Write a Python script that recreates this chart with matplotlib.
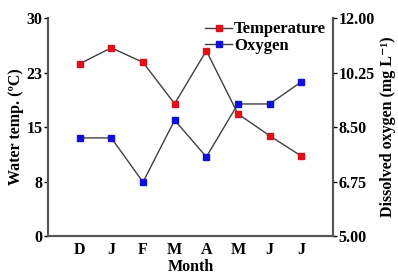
import matplotlib.pyplot as plt

months = ["D", "J", "F", "M", "A", "M", "J", "J"]
temperature = [23.7, 25.9, 23.9, 18.2, 25.5, 16.8, 13.8, 11.0]
oxygen = [8.15, 8.15, 6.73, 8.72, 7.54, 9.24, 9.24, 9.95]

left_ticks = [0, 7.5, 15, 22.5, 30]
left_labels = ["0", "8", "15", "23", "30"]
right_ticks = [5.0, 6.75, 8.5, 10.25, 12.0]

plt.rcParams['font.family'] = ['Liberation Serif', 'DejaVu Serif']
plt.rcParams['font.weight'] = 'bold'

fig = plt.figure(figsize=(3.98, 2.77), dpi=100)
ax = fig.add_axes([0.1206, 0.148, 0.716, 0.787])
ax2 = ax.twinx()

x = list(range(1, len(months) + 1))
line_col = "#404040"
ax.plot(x, temperature, color=line_col, lw=1, marker="s", ms=5,
        mfc="#e0101a", mec="#e0101a", label="Temperature")
ax2.plot(x, oxygen, color=line_col, lw=1, marker="s", ms=5,
         mfc="#1010d8", mec="#1010d8", label="Oxygen")

ax.set_xlim(0, 9)
ax.set_ylim(0, 30)
ax2.set_ylim(5, 12)
ax.set_xticks(x)
ax.set_xticklabels(months)
ax.set_yticks(left_ticks)
ax.set_yticklabels(left_labels)
ax2.set_yticks(right_ticks)
ax2.set_yticklabels([f"{v:.2f}" for v in right_ticks])

for a in (ax, ax2):
    a.spines['top'].set_visible(False)
    for s in ('left', 'right', 'bottom'):
        a.spines[s].set_color("#555555")
        a.spines[s].set_linewidth(1.5)
    a.tick_params(labelsize=11.5, length=3, width=1, colors="black", pad=1)
ax.tick_params(axis='x', length=0, pad=4)

ax.set_xlabel("Month", fontsize=11.5, fontweight='bold', labelpad=1)
ax.set_ylabel("Water temp. (ºC)", fontsize=11.5, fontweight='bold', labelpad=2)
ax2.set_ylabel("Dissolved oxygen (mg L\u207b\u00b9)", fontsize=11.5,
               fontweight='bold', labelpad=4)

h1, l1 = ax.get_legend_handles_labels()
h2, l2 = ax2.get_legend_handles_labels()
ax.legend(h1 + h2, l1 + l2, loc="upper right", bbox_to_anchor=(1.01, 1.03),
          frameon=False, fontsize=12, handlelength=1.6, handletextpad=0.1,
          borderaxespad=0.2, labelspacing=0.05)

fig.savefig("out.png", dpi=100)
